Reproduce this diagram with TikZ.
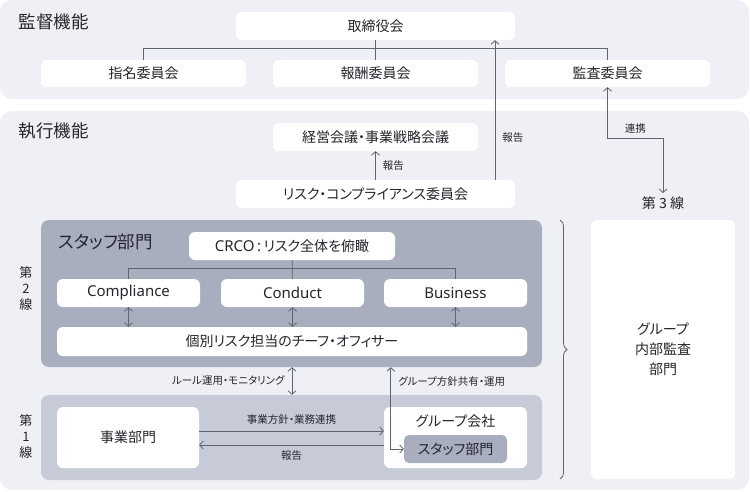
\documentclass[tikz,border=0pt]{standalone}
\usepackage{fontspec}
\setmainfont[RawFeature=+palt]{Noto Sans CJK JP}
\newfontfamily\latinfont{Noto Sans}
\usetikzlibrary{arrows.meta,positioning,decorations.pathreplacing}

\definecolor{panelbg}{HTML}{EEF0F5}
\definecolor{staffbg}{HTML}{A9AEBF}
\definecolor{linebg}{HTML}{C6CBD7}
\definecolor{lncol}{HTML}{5F6472}
\definecolor{txtcol}{HTML}{24262D}

\begin{document}
\begin{tikzpicture}[
    x=1pt, y=-1pt,
    panel/.style={fill=panelbg, rounded corners=12pt, inner sep=0pt},
    inner/.style={rounded corners=8pt, inner sep=0pt},
    box/.style={fill=white, rounded corners=6pt, text=txtcol, inner sep=0pt,
      font=\fontsize{14}{16}\selectfont, minimum height=28pt},
    latinbox/.style={box, minimum width=143pt, font=\latinfont\fontsize{15}{17}\selectfont},
    title/.style={anchor=west, text=txtcol, font=\fontsize{17.5}{20}\selectfont},
    lineno/.style={align=center, text=txtcol, font=\fontsize{13}{16}\selectfont},
    note/.style={text=txtcol, inner sep=1pt, font=\fontsize{10.5}{12}\selectfont},
    link/.style={draw=lncol, line width=0.8pt},
    >={Straight Barb[length=3.5pt,width=8pt]}
  ]
    \useasboundingbox (0,0) rectangle (750,491);

    % supervision
    \node[panel, minimum width=749pt, minimum height=99pt] (supv) at (374.5,49.5) {};
    \node[title] (supvtitle) at (15,22) {監督機能};
    \node[box, minimum width=279pt] (board) at (375.5,26) {取締役会};
    \node[box, minimum width=205pt, minimum height=27pt] (nomin) at (143.5,73.5) {指名委員会};
    \node[box, minimum width=205pt, minimum height=27pt] (remun) at (375.5,73.5) {報酬委員会};
    \node[box, minimum width=205pt, minimum height=27pt] (audit) at (607.5,73.5) {監査委員会};

    \draw[link] (board) -- (remun);
    \draw[link] (nomin.north) -- ++(0,-11) -| (audit.north);

    % execution
    \node[panel, minimum width=749pt, minimum height=379pt] (exec) at (374.5,300.5) {};
    \node[title] (exectitle) at (15,131) {執行機能};
    \node[box, minimum width=205pt] (mgmt) at (375.5,137) {経営会議・事業戦略会議};
    \node[box, minimum width=279pt] (rcc) at (375.5,194) {リスク・コンプライアンス委員会};

    \draw[link,->] (rcc) -- (mgmt) node[note, midway, right=6pt] {報告};
    \coordinate (rptx) at (495,0);
    \draw[link,->] (rptx |- rcc.north) -- (rptx |- board.south)
      node[note, pos=0.3, right=6pt] {報告};

    % third line
    \node[text=txtcol, font=\fontsize{14}{16}\selectfont] (third) at (663,203) {第 3 線};
    \node[box, minimum width=144pt, minimum height=259pt, align=center,
      font=\fontsize{14}{20}\selectfont] (intaudit) at (663,349.5) {グループ\\内部監査\\部門};
    \draw[link,<->] (audit.south) -- ++(0,51) -| (third.north)
      node[note, pos=0.25, above=3pt] {連携};
    \draw[link, decorate, decoration={brace, amplitude=7pt}] (560,220) -- (560,479);

    % second line
    \node[inner, fill=staffbg, minimum width=501pt, minimum height=147pt] (staff) at (291.5,293.5) {};
    \node[title] (stafftitle) at (55,242) {スタッフ部門};
    \node[box, minimum width=206pt] (crco) at (292,246) {{\latinfont\fontsize{15}{17}\selectfont CRCO\,:\,}リスク全体を俯瞰};
    \node[latinbox] (compl) at (128.5,293) {Compliance};
    \node[latinbox] (conduct) at (292.5,293) {Conduct};
    \node[latinbox] (busi) at (455.5,293) {Business};
    \node[box, minimum width=470pt, minimum height=29pt] (chief) at (292,341.5) {個別リスク担当のチーフ・オフィサー};
    \node[lineno] (second) at (26,289) {第\\2\\線};

    \draw[link] (crco) -- (conduct);
    \draw[link] (compl.north) -- ++(0,-10) -| (busi.north);
    \draw[link,<->] (compl.south) -- (compl.south |- chief.north);
    \draw[link,<->] (conduct.south) -- (conduct.south |- chief.north);
    \draw[link,<->] (busi.south) -- (busi.south |- chief.north);

    % first line
    \node[inner, fill=linebg, minimum width=501pt, minimum height=85pt] (firstline) at (291.5,437.5) {};
    \node[lineno] (first) at (26,437) {第\\1\\線};
    \node[box, minimum width=142pt, minimum height=61pt] (biz) at (128,437.5) {事業部門};
    \node[box, minimum width=143pt, minimum height=61pt] (grpco) at (455.5,437.5) {};
    \node[text=txtcol, font=\fontsize{14}{16}\selectfont] (grptitle) at (455.5,421) {グループ会社};
    \node[box, fill=staffbg, rounded corners=5pt, minimum width=103pt] (gstaff) at (455.5,449) {スタッフ部門};

    \draw[link,->] ([yshift=6.5pt]biz.east) -- ([yshift=6.5pt]grpco.west)
      node[note, midway, above=5pt] {事業方針・業務連携};
    \draw[link,->] ([yshift=-7.5pt]grpco.west) -- ([yshift=-7.5pt]biz.east)
      node[note, midway, below=4pt] {報告};

    \draw[link,<->] (chief |- staff.south) -- (chief |- firstline.north)
      node[note, midway, left=6pt] {ルール運用・モニタリング};
    \coordinate (gpbend) at ([xshift=-13pt]gstaff.west);
    \draw[link,<->] (gpbend |- staff.south)
      -- node[note, pos=0.17, right=6pt] {グループ方針共有・運用} (gpbend)
      -- (gstaff.west);
\end{tikzpicture}
\end{document}
